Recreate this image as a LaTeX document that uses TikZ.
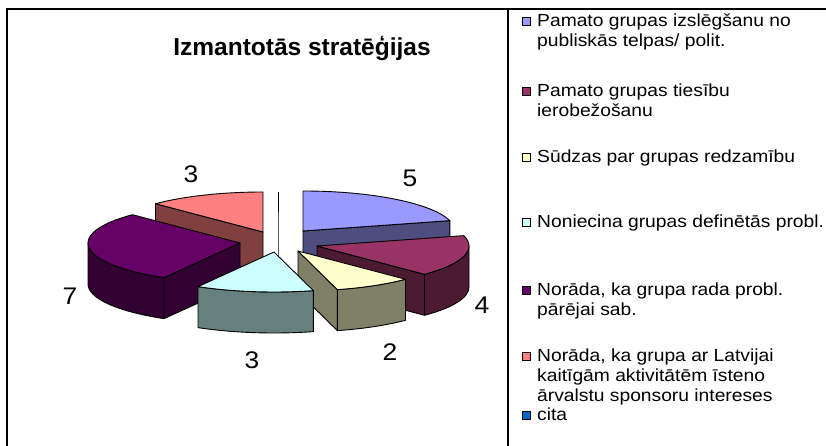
\documentclass[tikz,border=0pt]{standalone}
\usepackage{fontspec}
\setmainfont{Liberation Sans}
\newfontfamily\legendfont[FakeStretch=1.1]{Liberation Sans}
\newfontfamily\valuefont[FakeStretch=1.1]{Liberation Sans}

\definecolor{bluetop}{HTML}{9999FF}
\definecolor{blueside}{HTML}{4D4D80}
\definecolor{maroontop}{HTML}{993366}
\definecolor{maroonside}{HTML}{4D1A33}
\definecolor{yellowtop}{HTML}{FFFFCC}
\definecolor{yellowside}{HTML}{808066}
\definecolor{cyantop}{HTML}{CCFFFF}
\definecolor{cyanside}{HTML}{668080}
\definecolor{purpletop}{HTML}{660066}
\definecolor{purpleside}{HTML}{330033}
\definecolor{pinktop}{HTML}{FF8080}
\definecolor{pinkside}{HTML}{804040}
\definecolor{citatop}{HTML}{0066CC}

\newcommand{\stacklines}[1]{\vtop{\baselineskip=20pt #1}}

\tikzset{
    chartframe/.style={draw=black, line width=1.1pt},
    sliceline/.style={draw=black, line width=0.9pt, line join=round},
    pierim/.style={x radius=152, y radius=40},
    titletext/.style={anchor=base, inner sep=0pt, font=\bfseries\fontsize{24.5}{28}\selectfont},
    valuetext/.style={inner sep=0pt, font=\valuefont\fontsize{24}{27}\selectfont},
    legendtext/.style={anchor=base west, inner sep=0pt, font=\legendfont\fontsize{17.5}{20}\selectfont},
    legendkey/.style={draw=black, line width=0.6pt, minimum size=8.5pt, inner sep=0pt, anchor=south east},
}

\begin{document}
\begin{tikzpicture}[x=1pt, y=1pt]
    \useasboundingbox (0, 0) rectangle (826, 446);

    % frame of chart and legend
    \draw[chartframe] (7, 0) -- (7, 437) -- (826, 437);
    \draw[chartframe] (508, 437) -- (508, 0);

    \node[titletext] (title) at (302, 390) {Izmantotās stratēģijas};

    % apex of each exploded slice
    \coordinate (pinkC) at (263, 214);
    \coordinate (citaC) at (278, 214);
    \coordinate (blueC) at (303, 215);
    \coordinate (purpleC) at (240, 203);
    \coordinate (maroonC) at (317, 200);
    \coordinate (yellowC) at (298, 195);
    \coordinate (cyanC) at (274, 194);

    % pink, 90 to 135
    \draw[sliceline, fill=pinkside] (pinkC) -- ++(135:152 and 40) -- ++(0, -41) -- ([yshift=-41]pinkC) -- cycle;
    \draw[sliceline, fill=pinktop] (pinkC) -- ++(90:152 and 40) arc[pierim, start angle=90, end angle=135] -- cycle;

    % cita, zero
    \draw[sliceline] ([yshift=-41]citaC) -- (citaC) -- ++(90:152 and 40);

    % blue, 15 to 90
    \draw[sliceline, fill=blueside] (blueC) -- ++(15:152 and 40) -- ++(0, -41) -- ([yshift=-41]blueC) -- cycle;
    \draw[sliceline, fill=bluetop] (blueC) -- ++(90:152 and 40) arc[pierim, start angle=90, end angle=15] -- cycle;

    % purple, 135 to 240
    \draw[sliceline, fill=purpleside] ([shift={(180:152 and 40)}]purpleC) arc[pierim, start angle=180, end angle=240] -- ++(0, -41) arc[pierim, start angle=240, end angle=180] -- cycle;
    \draw[sliceline, fill=purpleside] (purpleC) -- ++(240:152 and 40) -- ++(0, -41) -- ([yshift=-41]purpleC) -- cycle;
    \draw[sliceline, fill=purpletop] (purpleC) -- ++(135:152 and 40) arc[pierim, start angle=135, end angle=240] -- cycle;

    % maroon, -45 to 15
    \draw[sliceline, fill=maroonside] ([shift={(-45:152 and 40)}]maroonC) arc[pierim, start angle=-45, end angle=0] -- ++(0, -41) arc[pierim, start angle=0, end angle=-45] -- cycle;
    \draw[sliceline, fill=maroonside] (maroonC) -- ++(-45:152 and 40) -- ++(0, -41) -- ([yshift=-41]maroonC) -- cycle;
    \draw[sliceline, fill=maroontop] (maroonC) -- ++(15:152 and 40) arc[pierim, start angle=15, end angle=-45] -- cycle;

    % yellow, -75 to -45
    \draw[sliceline, fill=yellowside] ([shift={(-75:152 and 40)}]yellowC) arc[pierim, start angle=-75, end angle=-45] -- ++(0, -41) arc[pierim, start angle=-45, end angle=-75] -- cycle;
    \draw[sliceline, fill=yellowside] (yellowC) -- ++(-75:152 and 40) -- ++(0, -41) -- ([yshift=-41]yellowC) -- cycle;
    \draw[sliceline, fill=yellowtop] (yellowC) -- ++(-45:152 and 40) arc[pierim, start angle=-45, end angle=-75] -- cycle;

    % cyan, -120 to -75
    \draw[sliceline, fill=cyanside] ([shift={(-120:152 and 40)}]cyanC) arc[pierim, start angle=-120, end angle=-75] -- ++(0, -41) arc[pierim, start angle=-75, end angle=-120] -- cycle;
    \draw[sliceline, fill=cyantop] (cyanC) -- ++(-75:152 and 40) arc[pierim, start angle=-75, end angle=-120] -- cycle;

    % values
    \node[valuetext] (valBlue) at (410, 268) {5};
    \node[valuetext] (valMaroon) at (482, 141) {4};
    \node[valuetext] (valYellow) at (390, 94) {2};
    \node[valuetext] (valCyan) at (252, 86) {3};
    \node[valuetext] (valPurple) at (70, 150) {7};
    \node[valuetext] (valPink) at (191, 272) {3};

    % legend
    \node[legendtext] (legExcl) at (537, 419) {\stacklines{\hbox{Pamato grupas izslēgšanu no}\hbox{publiskās telpas/ polit.}}};
    \node[legendtext] (legRights) at (537, 349) {\stacklines{\hbox{Pamato grupas tiesību}\hbox{ierobežošanu}}};
    \node[legendtext] (legVisible) at (537, 283) {Sūdzas par grupas redzamību};
    \node[legendtext] (legProbl) at (537, 218) {Noniecina grupas definētās probl.};
    \node[legendtext] (legSociety) at (537, 150) {\stacklines{\hbox{Norāda, ka grupa rada probl.}\hbox{pārējai sab.}}};
    \node[legendtext] (legSponsor) at (537, 84) {\stacklines{\hbox{Norāda, ka grupa ar Latvijai}\hbox{kaitīgām aktivitātēm īsteno}\hbox{ārvalstu sponsoru intereses}}};
    \node[legendtext] (legCita) at (537, 25) {cita};

    \node[legendkey, fill=bluetop] (keyExcl) at ([xshift=-6pt, yshift=1pt]legExcl.base west) {};
    \node[legendkey, fill=maroontop] (keyRights) at ([xshift=-6pt, yshift=1pt]legRights.base west) {};
    \node[legendkey, fill=yellowtop] (keyVisible) at ([xshift=-6pt, yshift=1pt]legVisible.base west) {};
    \node[legendkey, fill=cyantop] (keyProbl) at ([xshift=-6pt, yshift=1pt]legProbl.base west) {};
    \node[legendkey, fill=purpletop] (keySociety) at ([xshift=-6pt, yshift=1pt]legSociety.base west) {};
    \node[legendkey, fill=pinktop] (keySponsor) at ([xshift=-6pt, yshift=1pt]legSponsor.base west) {};
    \node[legendkey, fill=citatop] (keyCita) at ([xshift=-6pt, yshift=1pt]legCita.base west) {};
\end{tikzpicture}
\end{document}
